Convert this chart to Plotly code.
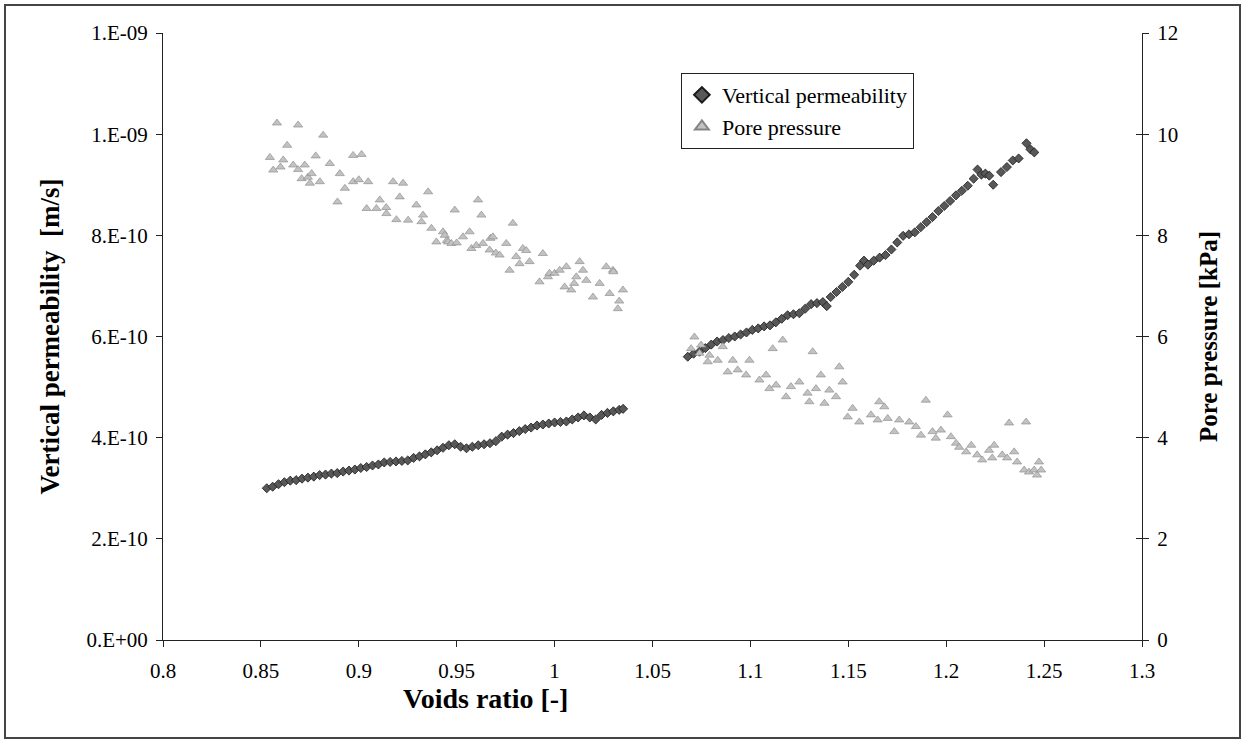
import plotly.graph_objects as go

# ---------------- data ----------------
# Vertical permeability [m/s] vs voids ratio
perm_x1 = [0.853, 0.856, 0.859, 0.862, 0.865, 0.868, 0.871, 0.874, 0.877, 0.880,
           0.883, 0.886, 0.889, 0.892, 0.895, 0.898, 0.901, 0.904, 0.907, 0.910,
           0.913, 0.916, 0.919, 0.922, 0.925, 0.928, 0.931, 0.934, 0.937, 0.940,
           0.943, 0.946, 0.949, 0.952, 0.955, 0.958, 0.961, 0.964, 0.967, 0.970,
           0.973, 0.976, 0.979, 0.982, 0.985, 0.988, 0.991, 0.994, 0.997, 1.000,
           1.003, 1.006, 1.009, 1.012, 1.015, 1.018, 1.021, 1.024, 1.027, 1.030,
           1.033, 1.035]
perm_y1 = [3.00, 3.03, 3.08, 3.12, 3.15, 3.16, 3.19, 3.21, 3.23, 3.26,
           3.27, 3.29, 3.30, 3.33, 3.35, 3.37, 3.40, 3.42, 3.45, 3.47,
           3.51, 3.52, 3.53, 3.54, 3.55, 3.60, 3.63, 3.67, 3.71, 3.75,
           3.80, 3.85, 3.87, 3.82, 3.79, 3.82, 3.85, 3.87, 3.89, 3.93,
           4.02, 4.06, 4.09, 4.13, 4.17, 4.20, 4.24, 4.26, 4.28, 4.30,
           4.31, 4.32, 4.36, 4.40, 4.44, 4.40, 4.36, 4.45, 4.49, 4.52,
           4.55, 4.57]
perm_x2 = [1.068, 1.071, 1.074, 1.077, 1.080, 1.083, 1.086, 1.089, 1.092, 1.095,
           1.098, 1.101, 1.104, 1.107, 1.110, 1.113, 1.116, 1.119, 1.122, 1.125,
           1.128, 1.131, 1.134, 1.137, 1.139, 1.141, 1.144, 1.147, 1.150, 1.153,
           1.156, 1.158, 1.160, 1.163, 1.166, 1.169, 1.172, 1.175, 1.178, 1.181,
           1.184, 1.187, 1.190, 1.193, 1.196, 1.199, 1.202, 1.205, 1.208, 1.211,
           1.214, 1.216, 1.218, 1.220, 1.222, 1.224, 1.228, 1.231, 1.234, 1.237,
           1.241, 1.243, 1.245]
perm_y2 = [5.60, 5.66, 5.70, 5.77, 5.84, 5.90, 5.93, 5.97, 6.00, 6.04,
           6.08, 6.13, 6.16, 6.20, 6.22, 6.28, 6.35, 6.42, 6.44, 6.46,
           6.55, 6.64, 6.66, 6.68, 6.60, 6.78, 6.88, 6.98, 7.08, 7.22,
           7.40, 7.50, 7.42, 7.50, 7.56, 7.61, 7.72, 7.86, 7.99, 8.02,
           8.06, 8.16, 8.26, 8.36, 8.48, 8.58, 8.68, 8.79, 8.88, 8.98,
           9.12, 9.30, 9.20, 9.22, 9.18, 9.00, 9.25, 9.35, 9.48, 9.52,
           9.82, 9.70, 9.64]
perm_x = perm_x1 + perm_x2
perm_y = [v * 1e-10 for v in perm_y1 + perm_y2]

# Pore pressure [kPa] vs voids ratio
pp_x1 = [0.8546, 0.8563, 0.8582, 0.8600, 0.8614, 0.8634, 0.8665, 0.8690, 0.8690, 0.8708,
         0.8724, 0.8740, 0.8750, 0.8759, 0.8780, 0.8801, 0.8818, 0.8852, 0.8891, 0.8903,
         0.8929, 0.8971, 0.8971, 0.9000, 0.9014, 0.9040, 0.9048, 0.9090, 0.9107, 0.9140,
         0.9141, 0.9175, 0.9192, 0.9209, 0.9226, 0.9252, 0.9294, 0.9320, 0.9328, 0.9354,
         0.9371, 0.9396, 0.9430, 0.9439, 0.9450, 0.9456, 0.9473, 0.9490, 0.9500, 0.9532,
         0.9566, 0.9575, 0.9600, 0.9609, 0.9626, 0.9634, 0.9668, 0.9672, 0.9685, 0.9700,
         0.9719, 0.9753, 0.9770, 0.9787, 0.9804, 0.9821, 0.9838, 0.9855, 0.9872, 0.9923,
         0.9940, 0.9966, 0.9974, 1.0000, 1.0026, 1.0051, 1.0060, 1.0085, 1.0100, 1.0111,
         1.0128, 1.0145, 1.0162, 1.0196, 1.0230, 1.0264, 1.0281, 1.0298, 1.0300, 1.0323,
         1.0330, 1.0349]
pp_y1 = [9.54, 9.29, 10.22, 9.35, 9.49, 9.78, 9.39, 10.18, 9.30, 9.12,
         9.39, 9.15, 9.03, 9.22, 9.57, 9.06, 9.98, 9.42, 8.66, 9.22,
         8.93, 9.58, 9.06, 9.10, 9.60, 8.53, 9.06, 8.53, 8.70, 8.55,
         8.43, 9.06, 8.31, 8.76, 9.03, 8.30, 8.60, 8.27, 8.40, 8.86,
         8.14, 7.87, 8.07, 8.00, 7.90, 7.87, 7.84, 8.50, 7.85, 7.97,
         8.07, 7.74, 7.80, 8.70, 8.40, 7.84, 7.71, 7.94, 7.97, 7.65,
         7.61, 7.84, 7.31, 8.24, 7.58, 7.44, 7.74, 7.70, 7.48, 7.08,
         7.64, 7.18, 7.25, 7.25, 7.31, 6.98, 7.38, 6.92, 7.05, 7.18,
         7.48, 7.31, 7.11, 6.78, 7.05, 7.38, 6.85, 7.31, 7.28, 6.55,
         6.70, 6.92]
pp_x2 = [1.0697, 1.0714, 1.0740, 1.0748, 1.0782, 1.0791, 1.0833, 1.0859, 1.0884, 1.0910,
         1.0935, 1.0978, 1.0995, 1.1046, 1.1080, 1.1097, 1.1114, 1.1131, 1.1165, 1.1182,
         1.1207, 1.1250, 1.1292, 1.1301, 1.1318, 1.1335, 1.1360, 1.1378, 1.1403, 1.1437,
         1.1454, 1.1471, 1.1497, 1.1522, 1.1556, 1.1616, 1.1650, 1.1658, 1.1684, 1.1701,
         1.1735, 1.1760, 1.1811, 1.1845, 1.1871, 1.1896, 1.1930, 1.1947, 1.1973, 1.2007,
         1.2024, 1.2050, 1.2066, 1.2102, 1.2128, 1.2158, 1.2184, 1.2219, 1.2235, 1.2245,
         1.2286, 1.2311, 1.2321, 1.2347, 1.2362, 1.2398, 1.2408, 1.2423, 1.2449, 1.2464,
         1.2474, 1.2485]
pp_y2 = [5.76, 5.99, 5.67, 5.83, 5.50, 5.63, 5.53, 5.80, 5.30, 5.53,
         5.34, 5.24, 5.53, 5.14, 5.24, 4.97, 5.76, 5.04, 5.93, 4.81,
         5.01, 5.10, 4.88, 4.71, 5.70, 4.97, 5.24, 4.68, 4.94, 4.81,
         5.40, 5.10, 4.41, 4.58, 4.31, 4.45, 4.35, 4.71, 4.61, 4.38,
         4.12, 4.35, 4.31, 4.22, 4.05, 4.74, 4.12, 3.99, 4.15, 4.45,
         4.02, 3.89, 3.81, 3.72, 3.85, 3.66, 3.56, 3.75, 3.60, 3.85,
         3.66, 3.60, 4.29, 3.72, 3.52, 3.36, 4.31, 3.32, 3.36, 3.26,
         3.52, 3.36]
pp_x = pp_x1 + pp_x2
pp_y = pp_y1 + pp_y2

x_ticks = [0.8, 0.85, 0.9, 0.95, 1.0, 1.05, 1.1, 1.15, 1.2, 1.25, 1.3]
x_ticktext = ["0.8", "0.85", "0.9", "0.95", "1", "1.05", "1.1", "1.15", "1.2", "1.25", "1.3"]
y1_ticks = [0, 2e-10, 4e-10, 6e-10, 8e-10, 1e-9, 1.2e-9]
y1_ticktext = ["0.E+00", "2.E-10", "4.E-10", "6.E-10", "8.E-10", "1.E-09", "1.E-09"]
y2_ticks = [0, 2, 4, 6, 8, 10, 12]

# ---------------- figure ----------------
FONT = "Liberation Serif, Times New Roman, serif"
fig = go.Figure()

pp_marker = dict(symbol="triangle-up", size=8, color="#c2c2c2",
                 line=dict(color="#858585", width=0.6))
fig.add_trace(go.Scatter(
    x=pp_x, y=pp_y, mode="markers", name="Pore pressure", yaxis="y2",
    marker=pp_marker, showlegend=False))
fig.add_trace(go.Scatter(
    x=perm_x, y=perm_y, mode="markers", name="Vertical permeability",
    marker=dict(symbol="diamond", size=7, color="#585858",
                line=dict(color="#1a1a1a", width=0.8))))
# legend entry for pore pressure (keeps legend order)
fig.add_trace(go.Scatter(
    x=[None], y=[None], mode="markers", name="Pore pressure", yaxis="y2",
    marker=pp_marker))
# dummy trace so yaxis3 (inner half of the cross ticks) is drawn
fig.add_trace(go.Scatter(x=[None], y=[None], yaxis="y3", showlegend=False,
                         hoverinfo="skip"))

axis_common = dict(showgrid=False, zeroline=False, showline=True,
                   linecolor="#222", linewidth=1,
                   tickfont=dict(family=FONT, size=21, color="black"),
                   tickcolor="#222", ticklen=6, tickwidth=1)

fig.update_layout(
    width=1245, height=743,
    margin=dict(l=163, r=103, t=33, b=103),
    paper_bgcolor="white", plot_bgcolor="white",
    font=dict(family=FONT, color="black"),
    xaxis=dict(range=[0.8, 1.3], tickvals=x_ticks, ticktext=x_ticktext,
               ticks="outside", ticklabelstandoff=6, **axis_common),
    yaxis=dict(range=[0, 1.2e-9], tickvals=y1_ticks, ticktext=y1_ticktext,
               ticks="outside", ticklabelstandoff=4,
               title=dict(text="<b>Vertical permeability  [m/s]</b>",
                          font=dict(family=FONT, size=27), standoff=18),
               **axis_common),
    yaxis2=dict(range=[0, 12], tickvals=y2_ticks, overlaying="y", side="right",
                ticks="outside", ticklabelstandoff=4,
                title=dict(text="<b>Pore pressure [kPa]</b>",
                           font=dict(family=FONT, size=25), standoff=22),
                **axis_common),
    yaxis3=dict(range=[0, 12], tickvals=y2_ticks, overlaying="y", side="right",
                anchor="free", position=1.0,
                ticks="inside", showticklabels=False,
                **axis_common),
    legend=dict(x=0.529, y=0.934, xanchor="left", yanchor="top",
                bgcolor="white", bordercolor="#222", borderwidth=1,
                font=dict(family=FONT, size=22, color="black"),
                itemsizing="constant"),
    annotations=[dict(text="<b>Voids ratio [-]</b>", xref="paper", yref="paper",
                      x=0.329, y=-0.0956, xanchor="center", yanchor="middle",
                      showarrow=False, font=dict(family=FONT, size=28))],
    shapes=[dict(type="rect", xref="paper", yref="paper",
                 x0=-0.1614, x1=1.1001, y0=-0.1614, y1=1.0461,
                 line=dict(color="#444", width=2), fillcolor="rgba(0,0,0,0)",
                 layer="below")],
)

fig.write_html("out.html")
